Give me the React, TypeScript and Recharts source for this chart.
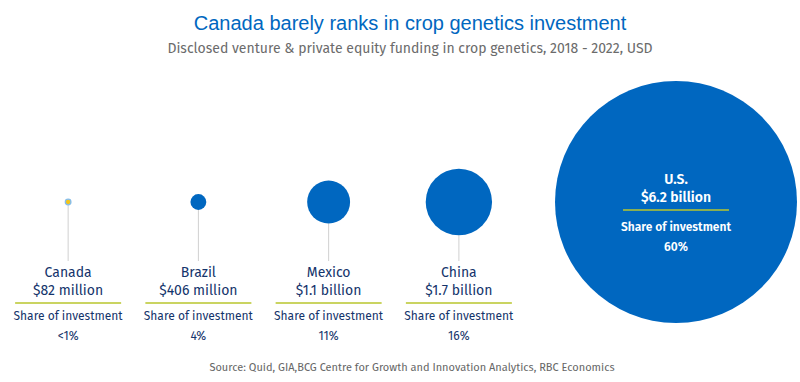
import React from 'react';
import { ScatterChart, Scatter, XAxis, YAxis, ZAxis } from 'recharts';

// funding by country, USD billions (2018 - 2022)
const countries = ['Canada', 'Brazil', 'Mexico', 'China'];
const fundingBn = [0.082, 0.406, 1.1, 1.7];
const fundingLabels = ['$82 million', '$406 million', '$1.1 billion', '$1.7 billion'];
const shareLabels = ['<1%', '4%', '11%', '16%'];

const leaderCountry = 'U.S.';
const leaderFundingBn = 6.2;
const leaderFundingLabel = '$6.2 billion';
const leaderShare = '60%';

const BLUE = '#0067c0';
const NAVY = '#14346b';
const LIME = '#b9c62c';
const LABEL_FONT = "'Fira Sans', 'Open Sans', sans-serif";

const smallData = countries.map((country, i) => ({
    country,
    funding: fundingBn[i],
    label: fundingLabels[i],
    share: shareLabels[i],
    row: 0,
}));

const leaderData = [
    { country: leaderCountry, funding: leaderFundingBn, label: leaderFundingLabel, share: leaderShare, row: 0 },
];

const maxFunding = Math.max(leaderFundingBn, ...fundingBn);

const SmallBubble = (props: any) => {
    const { cx, cy, size, payload } = props;
    const tiny = size < 3;
    const r = tiny ? 2.8 : size;
    return (
        <g>
            <line x1={cx} y1={cy + r} x2={cx} y2={261} stroke="#d0d0d0" strokeWidth={1} />
            {tiny ? (
                <circle cx={cx} cy={cy} r={r} fill="#f5c518" stroke="#86bdea" strokeWidth={1.3} />
            ) : (
                <circle cx={cx} cy={cy} r={r} fill={BLUE} />
            )}
            <g fontFamily={LABEL_FONT} fill={NAVY} textAnchor="middle">
                <text x={cx} y={276.5} fontSize={14}>{payload.country}</text>
                <text x={cx} y={295} fontSize={14}>{payload.label}</text>
                <line x1={cx - 53} x2={cx + 53} y1={303} y2={303} stroke={LIME} strokeWidth={1.5} />
                <text x={cx} y={320} fontSize={12}>Share of investment</text>
                <text x={cx} y={339.5} fontSize={12}>{payload.share}</text>
            </g>
        </g>
    );
};

const LeaderBubble = (props: any) => {
    const { cx, cy, size, payload } = props;
    return (
        <g>
            <circle cx={cx} cy={cy} r={size} fill={BLUE} />
            <g fontFamily={LABEL_FONT} fill="#ffffff" textAnchor="middle" fontWeight={600}>
                <text x={cx} y={cy - 18} fontSize={14}>{payload.country}</text>
                <text x={cx} y={cy} fontSize={14}>{payload.label}</text>
                <line x1={cx - 53} x2={cx + 53} y1={cy + 8} y2={cy + 8} stroke={LIME} strokeWidth={1.5} />
                <text x={cx} y={cy + 29} fontSize={12}>Share of investment</text>
                <text x={cx} y={cy + 49} fontSize={12}>{payload.share}</text>
            </g>
        </g>
    );
};

export default function App() {
    return (
        <div style={{ position: 'absolute', left: 0, top: 0, width: 800, height: 382, background: '#fff' }}>
            <div style={{ position: 'absolute', left: 0, top: 11, width: 820, textAlign: 'center', fontFamily: "'Liberation Sans', Arial, sans-serif", fontSize: 20, color: BLUE, lineHeight: '24px' }}>
                Canada barely ranks in crop genetics investment
            </div>
            <div style={{ position: 'absolute', left: 0, top: 40, width: 820, textAlign: 'center', fontFamily: LABEL_FONT, fontSize: 14, color: '#6b6b6b', lineHeight: '18px' }}>
                Disclosed venture &amp; private equity funding in crop genetics, 2018 - 2022, USD
            </div>
            <div style={{ position: 'absolute', left: 0, top: 0 }}>
                <ScatterChart width={800} height={382} margin={{ top: 70, right: 0, bottom: 48, left: 0 }}>
                    <XAxis xAxisId="small" type="category" dataKey="country" hide padding={{ left: 3, right: 276 }} allowDuplicatedCategory={false} />
                    <XAxis xAxisId="big" type="category" dataKey="country" hide padding={{ left: 552, right: 0 }} allowDuplicatedCategory={false} />
                    <YAxis type="number" dataKey="row" domain={[-1, 1]} hide />
                    <ZAxis type="number" dataKey="funding" domain={[0, maxFunding]} range={[0, 121]} />
                    <Scatter data={smallData} xAxisId="small" shape={<SmallBubble />} isAnimationActive={false} />
                    <Scatter data={leaderData} xAxisId="big" shape={<LeaderBubble />} isAnimationActive={false} />
                </ScatterChart>
            </div>
            <div style={{ position: 'absolute', left: 0, top: 360, width: 824, textAlign: 'center', fontFamily: LABEL_FONT, fontSize: 11, color: '#666', lineHeight: '16px' }}>
                Source: Quid, GIA,BCG Centre for Growth and Innovation Analytics, RBC Economics
            </div>
        </div>
    );
}
